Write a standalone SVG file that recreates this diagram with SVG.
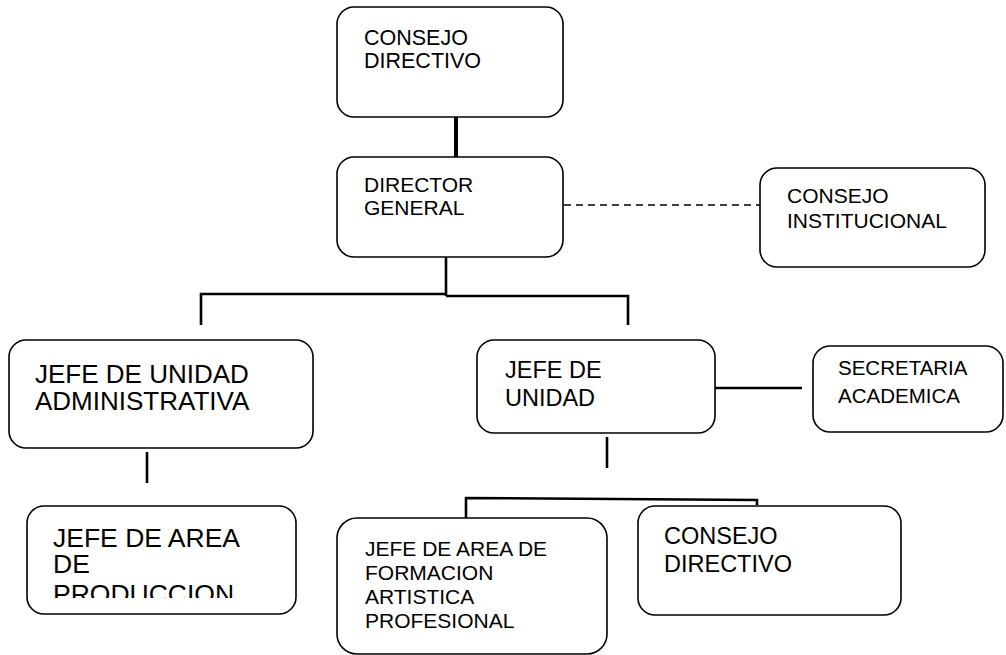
<svg xmlns="http://www.w3.org/2000/svg" width="1006" height="655" viewBox="0 0 1006 655">
<style>
.box{fill:#fff;stroke:#000;stroke-width:1.6}
.t{font-family:"Liberation Sans",Arial,sans-serif;fill:#000}
.c{stroke:#000;stroke-width:2.6;fill:none}
.d{stroke:#000;stroke-width:1.6;fill:none;stroke-dasharray:7 5}
</style>
<defs>
<clipPath id="clipProd"><rect x="27" y="506" width="269" height="92"/></clipPath>
</defs>
<rect width="1006" height="655" fill="#fff"/>
<g id="connectors">
<line class="c" x1="456" y1="117" x2="456" y2="157" style="stroke-width:4"/>
<line class="c" x1="446" y1="257" x2="446" y2="296"/>
<polyline class="c" points="201,325 201,294 446,294"/>
<polyline class="c" points="446,296 628,296 628,325"/>
<line class="d" x1="564" y1="205" x2="760" y2="205"/>
<line class="c" x1="147" y1="452" x2="147" y2="483"/>
<line class="c" x1="715" y1="388" x2="802" y2="388"/>
<line class="c" x1="607" y1="437" x2="607" y2="468"/>
<polyline class="c" points="466,518 466,498 757,500 757,505"/>
</g>
<g id="consejo-directivo-top">
<rect class="box" x="337" y="7" width="226" height="110" rx="17"/>
<text class="t" font-size="21.5"><tspan x="364" y="45">CONSEJO</tspan><tspan x="364" y="68">DIRECTIVO</tspan></text>
</g>
<g id="director-general">
<rect class="box" x="337" y="157" width="226" height="100" rx="17"/>
<text class="t" font-size="21"><tspan x="364" y="192">DIRECTOR</tspan><tspan x="364" y="215">GENERAL</tspan></text>
</g>
<g id="consejo-institucional">
<rect class="box" x="760" y="168" width="225" height="99" rx="17"/>
<text class="t" font-size="21"><tspan x="787" y="203">CONSEJO</tspan><tspan x="787" y="228">INSTITUCIONAL</tspan></text>
</g>
<g id="jefe-unidad-administrativa">
<rect class="box" x="9" y="340" width="304" height="108" rx="17"/>
<text class="t" font-size="26"><tspan x="35" y="383">JEFE DE UNIDAD</tspan><tspan x="35" y="410">ADMINISTRATIVA</tspan></text>
</g>
<g id="jefe-unidad">
<rect class="box" x="477" y="340" width="238" height="93" rx="17"/>
<text class="t" font-size="23.5"><tspan x="505" y="378">JEFE DE</tspan><tspan x="505" y="406">UNIDAD</tspan></text>
</g>
<g id="secretaria-academica">
<rect class="box" x="813" y="346" width="190" height="86" rx="17"/>
<text class="t" font-size="20.5"><tspan x="838" y="375">SECRETARIA</tspan><tspan x="838" y="403">ACADEMICA</tspan></text>
</g>
<g id="jefe-area-produccion">
<rect class="box" x="27" y="506" width="269" height="108" rx="17"/>
<text class="t" font-size="26.5" clip-path="url(#clipProd)"><tspan x="53" y="547">JEFE DE AREA</tspan><tspan x="53" y="573">DE</tspan><tspan x="53" y="603">PRODUCCION</tspan></text>
</g>
<g id="jefe-area-formacion">
<rect class="box" x="337" y="518" width="270" height="136" rx="20"/>
<text class="t" font-size="21"><tspan x="365" y="556">JEFE DE AREA DE</tspan><tspan x="365" y="580">FORMACION</tspan><tspan x="365" y="604">ARTISTICA</tspan><tspan x="365" y="628">PROFESIONAL</tspan></text>
</g>
<g id="consejo-directivo-bottom">
<rect class="box" x="638" y="506" width="263" height="109" rx="17"/>
<text class="t" font-size="23.5"><tspan x="664" y="544">CONSEJO</tspan><tspan x="664" y="572">DIRECTIVO</tspan></text>
</g>
</svg>
